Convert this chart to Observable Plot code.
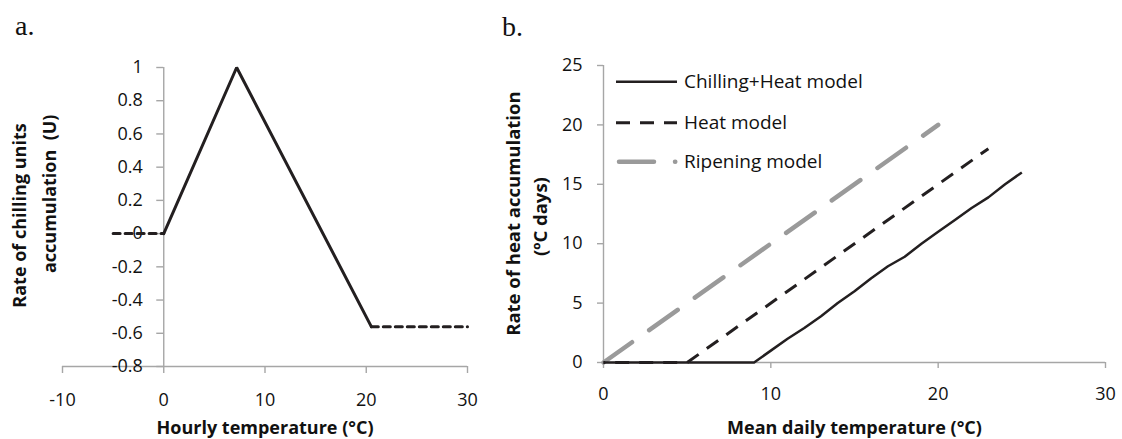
<!DOCTYPE html>
<html><head><meta charset="utf-8">
<script src="https://cdn.jsdelivr.net/npm/d3@7"></script>
<script src="https://cdn.jsdelivr.net/npm/@observablehq/plot@0.6"></script>
<style>
body{margin:0;background:#fff;}
#wrap{position:relative;width:1122px;height:439px;overflow:hidden;font-family:"Open Sans",sans-serif;}
.panel{position:absolute;top:0;}
.tag{position:absolute;font-family:"Liberation Serif","DejaVu Serif",serif;font-size:28px;line-height:1;color:#111;}
#legend{position:absolute;left:0;top:0;}
</style></head><body><div id="wrap"></div>
<script>
// ---------- Panel a: chilling units ----------
const chillRiseT = [0, 7.2, 20.5];
const chillRiseU = [0, 1, -0.56];
const chillColdT = [-5, 0];
const chillColdU = [0, 0];
const chillHotT = [20.5, 30];
const chillHotU = [-0.56, -0.56];
const aXTicks = [-10, 0, 10, 20, 30];
const aYTicks = [-0.8, -0.6, -0.4, -0.2, 0, 0.2, 0.4, 0.6, 0.8, 1];
const aXTitle = "Hourly temperature (°C)";
const aYTitle = ["Rate of chilling units", "accumulation  (U)"];

// ---------- Panel b: heat accumulation ----------
const seriesNames = ["Chilling+Heat model", "Heat model", "Ripening model"];
const chillHeatT = [0, 9, 10, 11, 12, 13, 14, 15, 16, 17, 18, 19, 20, 21, 22, 23, 24, 25];
const chillHeatR = [0, 0, 1, 2, 2.9, 3.9, 5, 6, 7.1, 8.1, 8.9, 10, 11, 12, 13, 13.9, 15, 16];
const heatT = [0, 5, 23];
const heatR = [0, 0, 18];
const ripenT = [0, 20];
const ripenR = [0, 20];
const bXTicks = [0, 10, 20, 30];
const bYTicks = [0, 5, 10, 15, 20, 25];
const bXTitle = "Mean daily temperature (°C)";
const bYTitle = ["Rate of heat accumulation", "(ºC days)"];

// ---------- styles ----------
const ink = "#231f20", axisGray = "#a6a6a6", ripenGray = "#9a9a9a";
const font = '"Open Sans", sans-serif';
const seriesStyle = {
  "Chilling+Heat model": {stroke: ink, strokeWidth: 2.5, dash: null, cap: "butt", offset: 0},
  "Heat model": {stroke: ink, strokeWidth: 3, dash: "14,10", cap: "butt", offset: 12.3},
  "Ripening model": {stroke: ripenGray, strokeWidth: 4.5, dash: "35,21", cap: "round", offset: 0}
};
const zip = (xs, ys) => xs.map((x, i) => ({x, y: ys[i]}));
const fmt = d => String(d);
const titleOpts = {text: d => d, fontWeight: "bold", fontSize: 18, lineAnchor: "middle", textAnchor: "middle", fill: "#111"};

const wrap = document.getElementById("wrap");

// Panel a
const plotA = Plot.plot({
  width: 490, height: 439,
  marginLeft: 62, marginRight: 23, marginTop: 67, marginBottom: 73,
  x: {domain: [-10, 30]},
  y: {domain: [-0.8, 1], axis: null},
  style: {fontFamily: font, fontSize: "18px", color: "#111", background: "transparent", overflow: "visible"},
  marks: [
    Plot.ruleY([-0.8], {stroke: axisGray, strokeWidth: 1.4}),
    Plot.ruleX([0], {y1: -0.8, y2: 1, stroke: axisGray, strokeWidth: 1.4}),
    Plot.ruleY(aYTicks, {y: d => d, x1: 0, x2: 0, insetLeft: -7, stroke: axisGray, strokeWidth: 1.4}),
    Plot.text(aYTicks, {x: 0, y: d => d, text: fmt, textAnchor: "end", dx: -21, fontSize: 18, fill: "#111"}),
    Plot.axisX(aXTicks, {tickSize: 7, tickPadding: 20, stroke: axisGray, strokeWidth: 1.4, fill: "#111", tickFormat: fmt, fontSize: 18, label: null}),
    Plot.text([aXTitle], {...titleOpts, frameAnchor: "bottom", dy: 62}),
    Plot.text([aYTitle[0]], {...titleOpts, frameAnchor: "left", rotate: -90, dx: -42.3, dy: -1.5}),
    Plot.text([aYTitle[1]], {...titleOpts, frameAnchor: "left", rotate: -90, dx: -12.3, dy: -23.2}),
    Plot.line(zip(chillColdT, chillColdU), {x: "x", y: "y", stroke: ink, strokeWidth: 3, strokeDasharray: "7,5"}),
    Plot.line(zip(chillHotT, chillHotU), {x: "x", y: "y", stroke: ink, strokeWidth: 3, strokeDasharray: "7,5"}),
    Plot.line(zip(chillRiseT, chillRiseU), {x: "x", y: "y", stroke: ink, strokeWidth: 3, strokeLinejoin: "miter"})
  ]
});
plotA.classList.add("panel");
plotA.style.left = "0px";
wrap.appendChild(plotA);

// Panel b
const bSeries = [
  {name: "Ripening model", pts: zip(ripenT, ripenR)},
  {name: "Heat model", pts: zip(heatT, heatR)},
  {name: "Chilling+Heat model", pts: zip(chillHeatT, chillHeatR)}
];
const plotB = Plot.plot({
  width: 632, height: 439,
  marginLeft: 113, marginRight: 17, marginTop: 65, marginBottom: 77,
  x: {domain: [0, 30]},
  y: {domain: [0, 25]},
  style: {fontFamily: font, fontSize: "18px", color: "#111", background: "transparent", overflow: "visible"},
  marks: [
    Plot.ruleY([0], {stroke: axisGray, strokeWidth: 1.4}),
    Plot.ruleX([0], {stroke: axisGray, strokeWidth: 1.4}),
    Plot.axisX(bXTicks, {tickSize: 6, tickPadding: 19, stroke: axisGray, strokeWidth: 1.4, fill: "#111", tickFormat: fmt, fontSize: 18, label: null}),
    Plot.axisY(bYTicks, {tickSize: 6, tickPadding: 15, stroke: axisGray, strokeWidth: 1.4, fill: "#111", tickFormat: fmt, fontSize: 18, label: null}),
    Plot.text([bXTitle], {...titleOpts, frameAnchor: "bottom", dy: 66}),
    Plot.text([bYTitle[0]], {...titleOpts, frameAnchor: "left", rotate: -90, dx: -89, dy: -0.4, fontSize: 18.5}),
    Plot.text([bYTitle[1]], {...titleOpts, frameAnchor: "left", rotate: -90, dx: -62.5, dy: 2.6, fontSize: 18.5}),
    ...bSeries.map(s => {
      const st = seriesStyle[s.name];
      return Plot.line(s.pts, {x: "x", y: "y", stroke: st.stroke, strokeWidth: st.strokeWidth,
        strokeDasharray: st.dash || undefined, strokeDashoffset: st.offset, strokeLinecap: st.cap});
    })
  ]
});
plotB.classList.add("panel");
plotB.style.left = "490px";
wrap.appendChild(plotB);

// Legend (inside panel b)
const legendRows = [81.7, 122.7, 161.7];
const leg = d3.select(wrap).append("svg").attr("id", "legend").attr("width", 1122).attr("height", 439)
  .style("pointer-events", "none");
seriesNames.forEach((name, i) => {
  const st = seriesStyle[name];
  const isRipen = name === "Ripening model";
  leg.append("line")
    .attr("x1", isRipen ? 619 : 616).attr("x2", isRipen ? 675.3 : 677)
    .attr("y1", legendRows[i]).attr("y2", legendRows[i])
    .attr("stroke", st.stroke).attr("stroke-width", st.strokeWidth)
    .attr("stroke-dasharray", st.dash).attr("stroke-linecap", st.cap);
  leg.append("text").attr("x", 684).attr("y", legendRows[i]).attr("dy", "0.35em")
    .attr("font-family", font).attr("font-size", 19).attr("fill", "#111").text(name);
});

// Panel tags
const tagA = document.createElement("div"); tagA.className = "tag"; tagA.textContent = "a.";
tagA.style.left = "15px"; tagA.style.top = "12px"; wrap.appendChild(tagA);
const tagB = document.createElement("div"); tagB.className = "tag"; tagB.textContent = "b.";
tagB.style.left = "502px"; tagB.style.top = "13px"; wrap.appendChild(tagB);
</script></body></html>
